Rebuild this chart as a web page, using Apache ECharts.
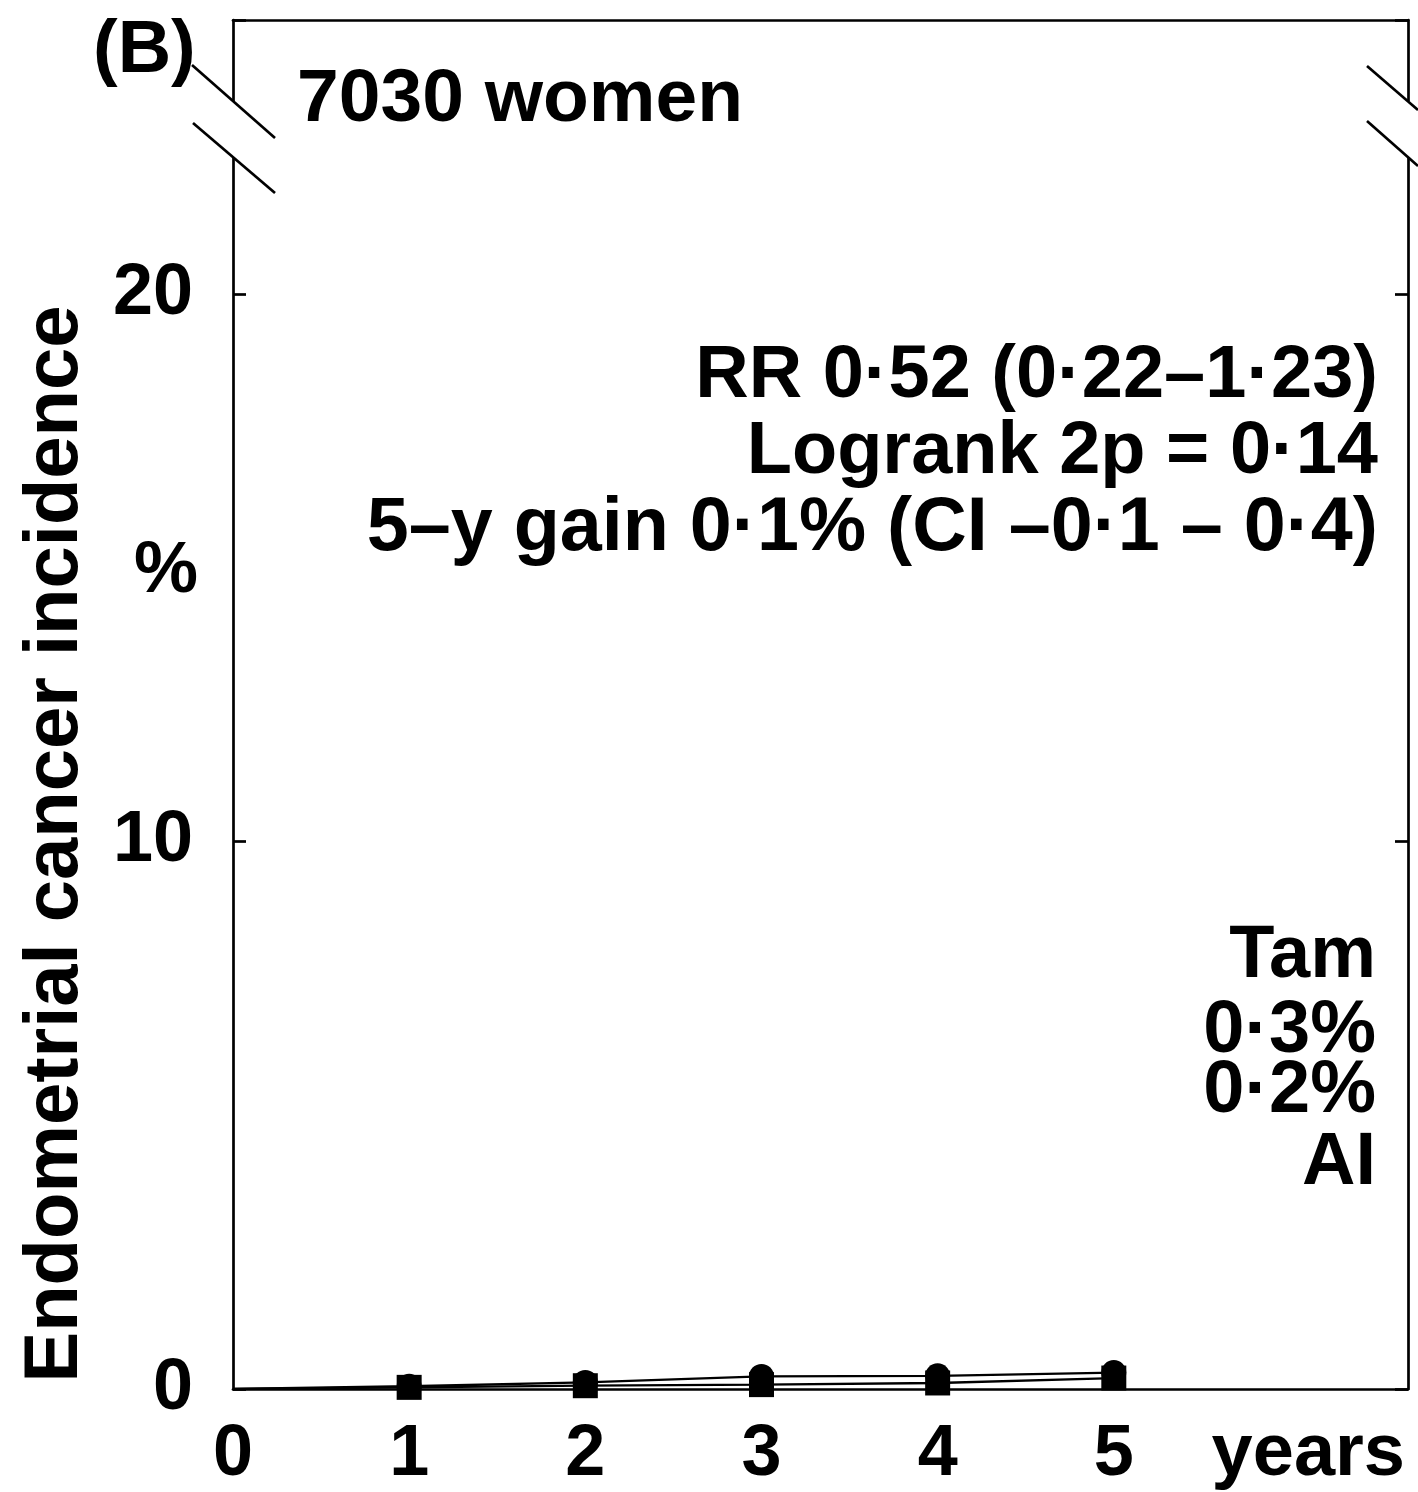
<!DOCTYPE html>
<html>
<head>
<meta charset="utf-8">
<script src="https://cdn.jsdelivr.net/npm/echarts@6/dist/echarts.min.js"></script>
<style>
  html, body { margin: 0; padding: 0; background: #fff; }
  #chart { width: 1418px; height: 1492px; }
</style>
</head>
<body>
<div id="chart"></div>
<script>
// Cumulative endometrial cancer incidence (%) by year of follow-up
const years = [0, 1, 2, 3, 4, 5];
const tamPct = [0, 0.05, 0.12, 0.23, 0.24, 0.3];
const aiPct = [0, 0.03, 0.06, 0.08, 0.11, 0.2];
const yTickValues = [0, 10, 20];
const xTickValues = [0, 1, 2, 3, 4, 5];

const FONT = '"Liberation Sans", Arial, Helvetica, sans-serif';
const INK = '#000';
const AXIS_W = 2.7;

// plot box in pixels
const G = { left: 233, top: 20, right: 10, bottom: 103 };
const W = 1418, H = 1492;
const boxRight = W - G.right;

function seriesData(vals) {
  return years.map((y, i) => (i === 0 ? { value: [y, vals[i]], symbol: 'none' } : [y, vals[i]]));
}

function txt(text, x, y, size, align, extra) {
  return Object.assign({
    type: 'text', x: x, y: y, z: 20,
    style: {
      text: text, fill: INK, font: 'bold ' + size + 'px ' + FONT,
      textAlign: align, textVerticalAlign: 'middle'
    }
  }, extra || {});
}

const chart = echarts.init(document.getElementById('chart'), null, { renderer: 'canvas' });

const yAxisBase = {
  type: 'value', min: 0, max: 25, interval: 10,
  splitLine: { show: false },
  axisLine: { show: true, onZero: false, lineStyle: { color: INK, width: AXIS_W } },
  axisTick: { show: true, inside: true, length: 13, lineStyle: { color: INK, width: AXIS_W } }
};

chart.setOption({
  animation: false,
  backgroundColor: '#fff',
  grid: { left: G.left, top: G.top, right: G.right, bottom: G.bottom },
  xAxis: [
    {
      type: 'value', min: 0, max: 6.67, position: 'bottom',
      splitLine: { show: false },
      axisLine: { show: true, onZero: false, lineStyle: { color: INK, width: AXIS_W } },
      axisTick: { show: false },
      axisLabel: {
        customValues: xTickValues, margin: 30,
        color: INK, fontSize: 72, fontWeight: 'bold', fontFamily: FONT
      }
    },
    {
      type: 'value', min: 0, max: 6.67, position: 'top',
      splitLine: { show: false },
      axisLine: { show: true, onZero: false, lineStyle: { color: INK, width: AXIS_W } },
      axisTick: { show: false }, axisLabel: { show: false }
    }
  ],
  yAxis: [
    Object.assign({}, yAxisBase, {
      position: 'left',
      axisLabel: {
        customValues: yTickValues, margin: 40,
        color: INK, fontSize: 72, fontWeight: 'bold', fontFamily: FONT
      }
    }),
    Object.assign({}, yAxisBase, { position: 'right', axisLabel: { show: false } })
  ],
  series: [
    {
      name: 'AI', type: 'line', data: seriesData(aiPct),
      symbol: 'rect', symbolSize: 25, showAllSymbol: true,
      lineStyle: { color: INK, width: 2.3 }, itemStyle: { color: INK },
      z: 3
    },
    {
      name: 'Tam', type: 'line', data: seriesData(tamPct),
      symbol: 'circle', symbolSize: 25, showAllSymbol: true,
      lineStyle: { color: INK, width: 2.3 }, itemStyle: { color: INK },
      z: 4
    }
  ],
  graphic: [
    // axis break: gaps in both vertical borders and the slash marks
    { type: 'rect', z: 15, shape: { x: G.left - 6, y: 101, width: 12, height: 57 }, style: { fill: '#fff' } },
    { type: 'rect', z: 15, shape: { x: boxRight - 6, y: 101, width: 12, height: 57 }, style: { fill: '#fff' } },
    { type: 'line', z: 16, shape: { x1: 192, y1: 65, x2: 275, y2: 138 }, style: { stroke: INK, lineWidth: AXIS_W } },
    { type: 'line', z: 16, shape: { x1: 193, y1: 123, x2: 275, y2: 193 }, style: { stroke: INK, lineWidth: AXIS_W } },
    { type: 'line', z: 16, shape: { x1: 1367, y1: 66, x2: 1418, y2: 110 }, style: { stroke: INK, lineWidth: AXIS_W } },
    { type: 'line', z: 16, shape: { x1: 1367, y1: 121, x2: 1418, y2: 166 }, style: { stroke: INK, lineWidth: AXIS_W } },

    txt('(B)', 93, 52, 74, 'left'),
    txt('7030 women', 297, 100, 75, 'left'),

    txt('RR 0·52 (0·22–1·23)', 1378, 377, 74, 'right'),
    txt('Logrank 2p = 0·14', 1378, 453, 74, 'right'),
    txt('5–y gain 0·1% (CI –0·1 – 0·4)', 1378, 529, 75.5, 'right'),

    txt('Tam', 1376, 957, 74, 'right'),
    txt('0·3%', 1376, 1032, 74, 'right'),
    txt('0·2%', 1376, 1092, 74, 'right'),
    txt('AI', 1376, 1164, 74, 'right'),

    txt('%', 166, 572, 72, 'center'),
    txt('Endometrial cancer incidence', 56, 844, 76, 'center', { rotation: Math.PI / 2, originX: 0, originY: 0 }),
    txt('years', 1405, 1455, 74, 'right')
  ]
});
</script>
</body>
</html>
